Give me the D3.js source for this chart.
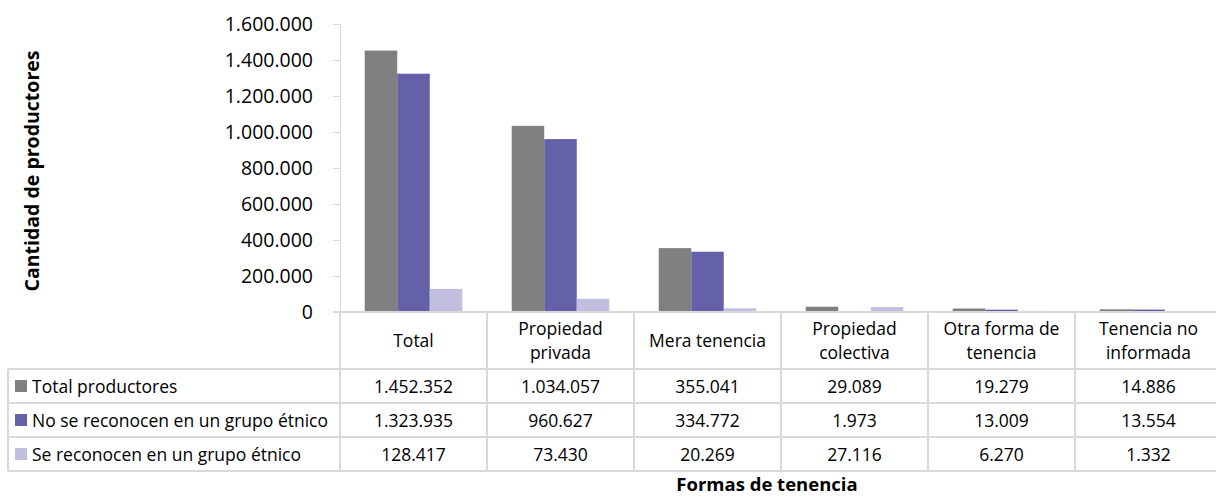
<!DOCTYPE html>
<html>
<head>
<meta charset="utf-8">
<script src="https://cdn.jsdelivr.net/npm/d3@7"></script>
<style>
  body { margin: 0; background: #fff; }
  svg text { font-family: "Open Sans", "Noto Sans", sans-serif; fill: #000; }
</style>
</head>
<body>
<div id="chart"></div>
<script>
// --- datos ---
const categories = [["Total"], ["Propiedad", "privada"], ["Mera tenencia"], ["Propiedad", "colectiva"], ["Otra forma de", "tenencia"], ["Tenencia no", "informada"]];
const seriesNames = ["Total productores", "No se reconocen en un grupo étnico", "Se reconocen en un grupo étnico"];
const totalProductores = [1452352, 1034057, 355041, 29089, 19279, 14886];
const noReconocen = [1323935, 960627, 334772, 1973, 13009, 13554];
const siReconocen = [128417, 73430, 20269, 27116, 6270, 1332];
const yTicks = [0, 200000, 400000, 600000, 800000, 1000000, 1200000, 1400000, 1600000];
const colors = ["#808080", "#6461a9", "#c1bfdf"];

const values = [totalProductores, noReconocen, siReconocen];
const catKeys = categories.map(c => c.join(" "));

const W = 1216, H = 496;
const plotLeft = 340, colW = 147, base = 312, plotTop = 24;
const legendLeft = 8;
const rowTops = [369, 403, 437, 471];
const grid = "#d9d9d9";
const tableFont = 17.5;

const loc = d3.formatLocale({ decimal: ",", thousands: ".", grouping: [3], currency: ["$", ""] });
const fmt = loc.format(",d");

const svg = d3.select("#chart").append("svg").attr("width", W).attr("height", H);

const x = d3.scaleBand().domain(catKeys).range([plotLeft, plotLeft + colW * catKeys.length]).padding(0);
const xs = d3.scaleBand().domain(d3.range(3)).range([0, x.bandwidth()]).paddingInner(0).paddingOuter(0.76);
const y = d3.scaleLinear().domain([0, 1600000]).range([base, plotTop]);

// eje y
const yAxis = svg.append("g").attr("transform", `translate(${plotLeft},0)`)
  .call(d3.axisLeft(y).tickValues(yTicks).tickFormat(fmt).tickSize(7).tickPadding(20));
yAxis.select(".domain").attr("stroke", grid);
yAxis.selectAll(".tick line").attr("stroke", grid);
yAxis.selectAll(".tick text").attr("font-size", 19.5).attr("font-family", "'Open Sans', sans-serif").attr("fill", "#000");

// barras
seriesNames.forEach((s, i) => {
  svg.append("g").selectAll("rect").data(values[i]).enter().append("rect")
    .attr("x", (d, j) => x(catKeys[j]) + xs(i))
    .attr("width", xs.bandwidth())
    .attr("y", d => y(d))
    .attr("height", d => base - y(d))
    .attr("fill", colors[i]);
});

// tabla de datos
const tbl = svg.append("g").attr("stroke", grid).attr("stroke-width", 2);
tbl.append("line").attr("x1", plotLeft - 7).attr("x2", W).attr("y1", base).attr("y2", base);
rowTops.forEach(r => tbl.append("line").attr("x1", legendLeft).attr("x2", W).attr("y1", r).attr("y2", r));
tbl.append("line").attr("x1", legendLeft).attr("x2", legendLeft).attr("y1", rowTops[0]).attr("y2", rowTops[3]);
catKeys.forEach((c, j) => {
  tbl.append("line").attr("x1", x(c)).attr("x2", x(c)).attr("y1", base).attr("y2", rowTops[3]);
});

// encabezados
categories.forEach((lines, j) => {
  const cx = x(catKeys[j]) + colW / 2;
  const t = svg.append("text").attr("text-anchor", "middle").attr("font-size", tableFont);
  const y0 = lines.length === 1 ? 347 : 335;
  lines.forEach((l, k) => t.append("tspan").attr("x", cx).attr("y", y0 + k * 24).text(l));
});

// filas
seriesNames.forEach((s, i) => {
  const cy = (rowTops[i] + rowTops[i + 1]) / 2;
  svg.append("rect").attr("x", 15).attr("y", cy - 6).attr("width", 12).attr("height", 12).attr("fill", colors[i]);
  svg.append("text").attr("x", 32).attr("y", cy + 6.5).attr("font-size", tableFont).text(s);
  values[i].forEach((v, j) => {
    svg.append("text").attr("x", x(catKeys[j]) + colW / 2).attr("y", cy + 6.5)
      .attr("text-anchor", "middle").attr("font-size", tableFont).text(fmt(v));
  });
});

// títulos
svg.append("text").attr("x", 767).attr("y", 491).attr("text-anchor", "middle")
  .attr("font-size", 18.5).attr("font-weight", "bold").text("Formas de tenencia");
svg.append("text").attr("transform", "translate(39,171) rotate(-90)").attr("text-anchor", "middle")
  .attr("font-size", 19.5).attr("font-weight", "bold").text("Cantidad de productores");
</script>
</body>
</html>
